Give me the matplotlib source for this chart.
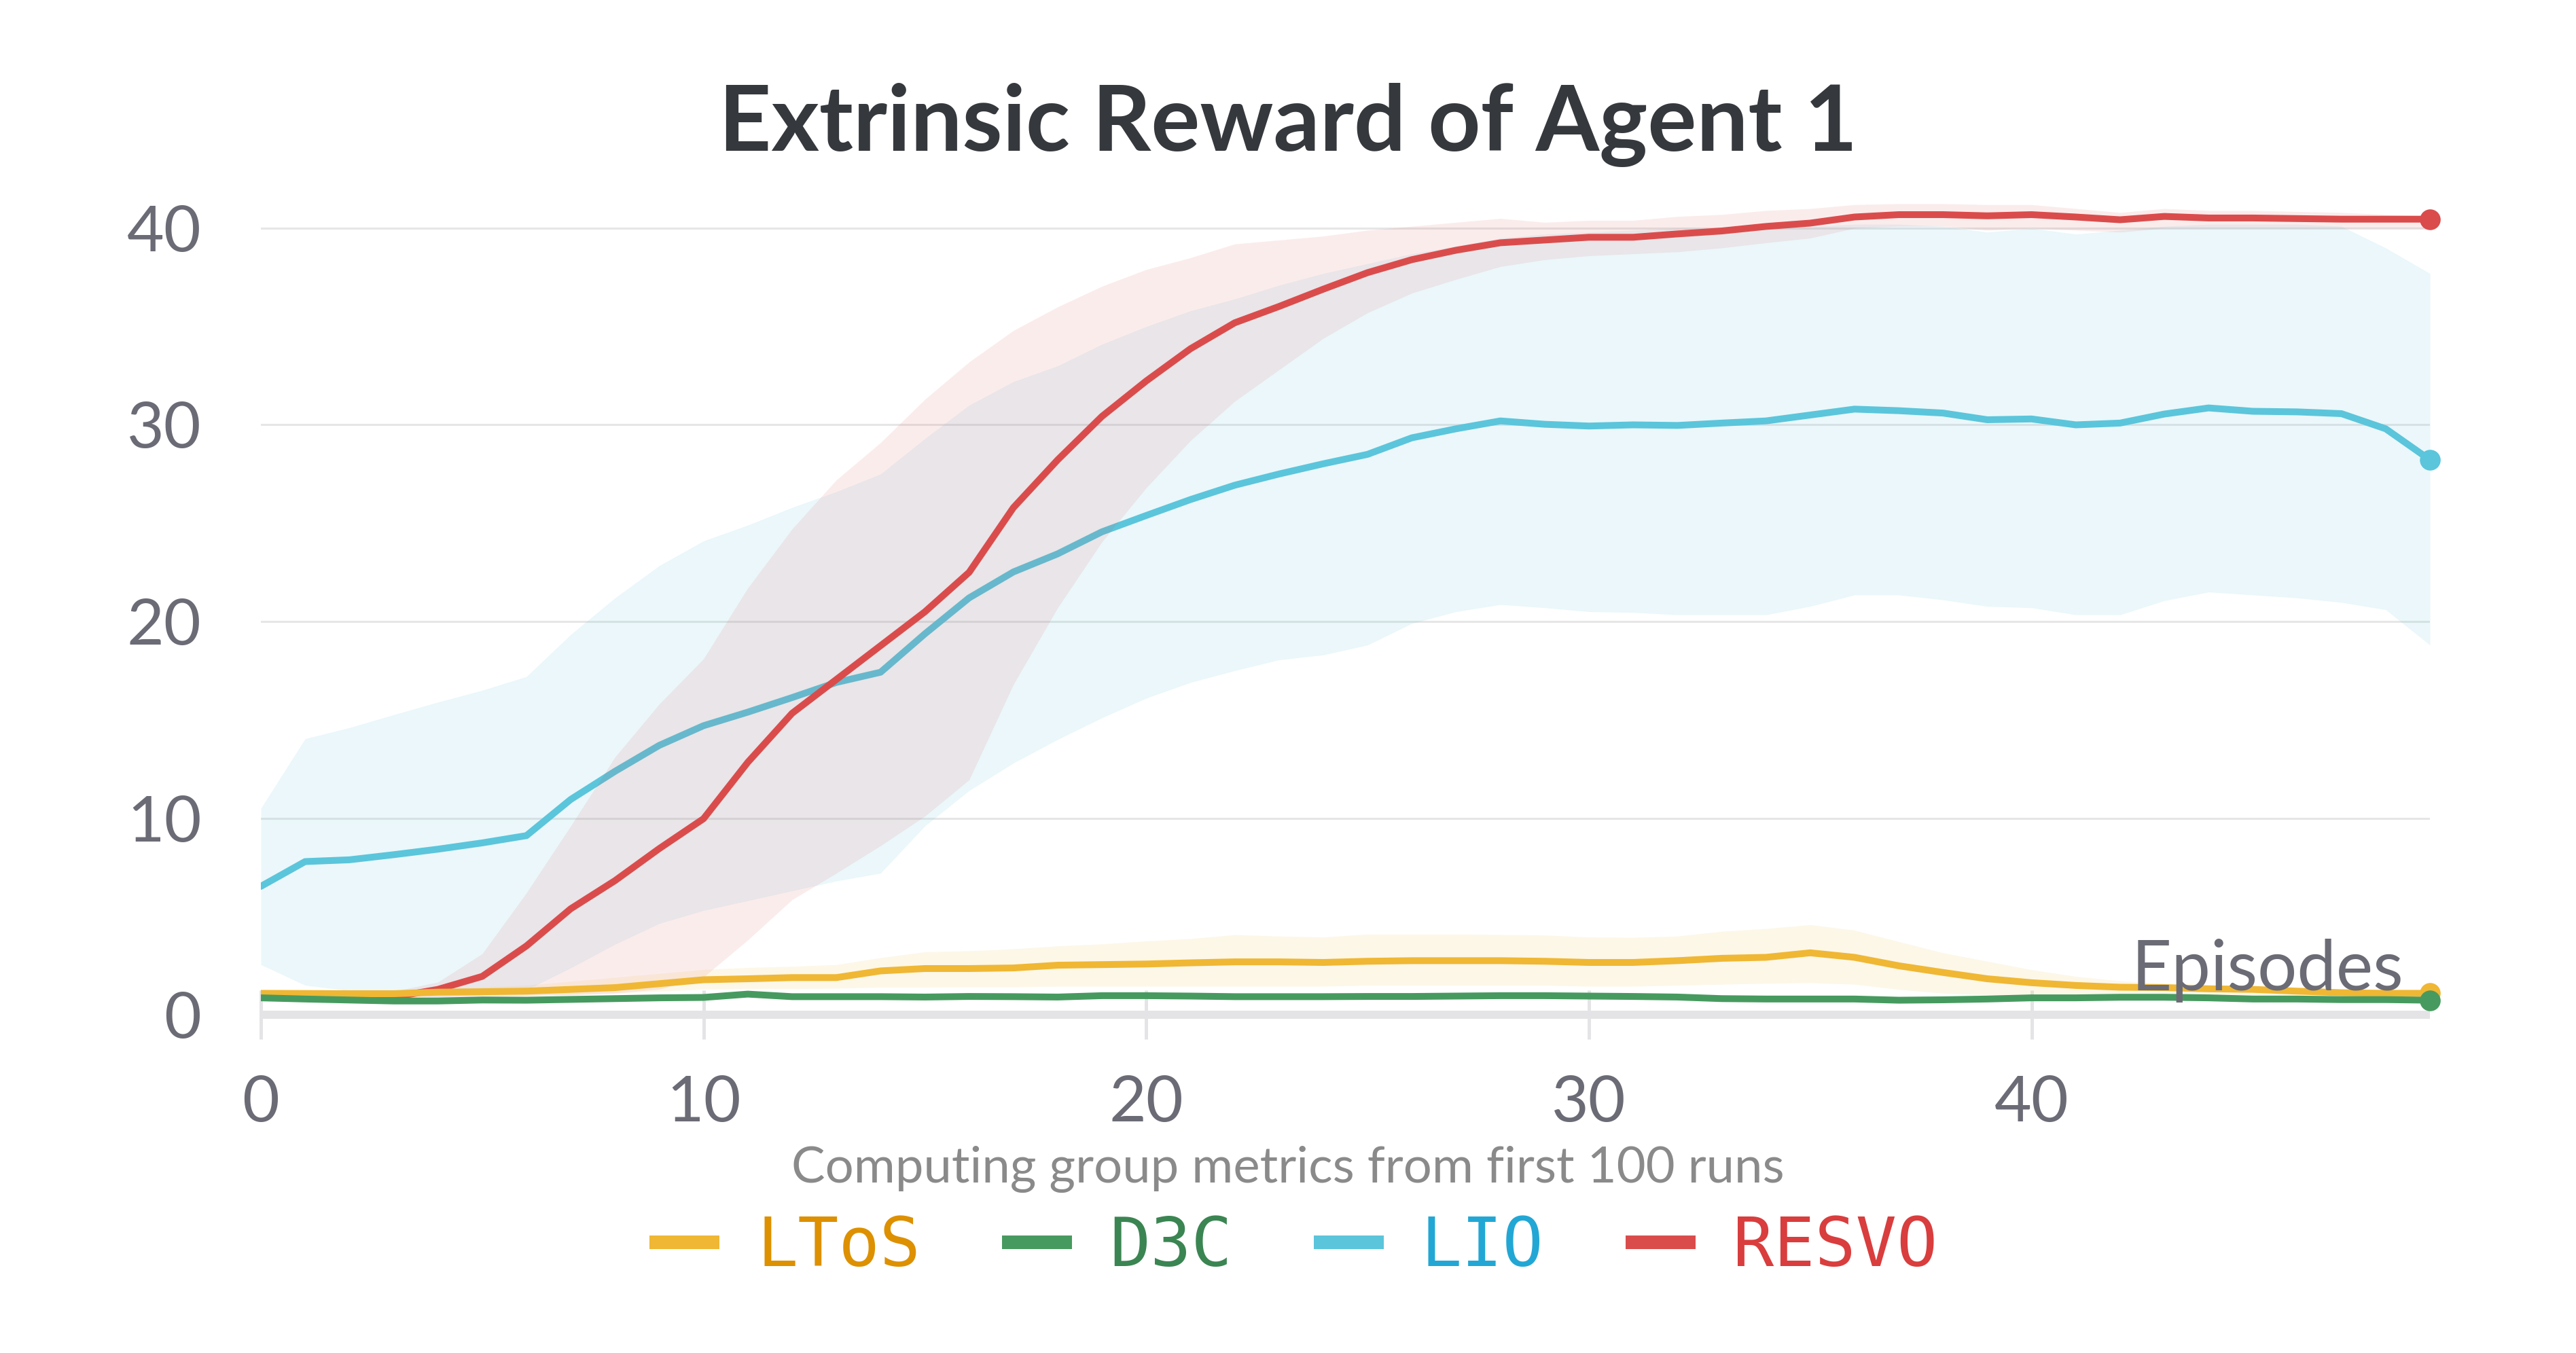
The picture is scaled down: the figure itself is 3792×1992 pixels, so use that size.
import matplotlib
matplotlib.use("Agg")
import matplotlib.pyplot as plt
from matplotlib.lines import Line2D
import numpy as np

plt.rcParams['font.family'] = ['Lato', 'DejaVu Sans']

episodes = list(range(50))

ltos_mean = [1.09, 1.08, 1.07, 1.07, 1.15, 1.17, 1.2, 1.29, 1.38, 1.58,
             1.78, 1.83, 1.89, 1.89, 2.23, 2.35, 2.35, 2.38, 2.52, 2.55,
             2.58, 2.64, 2.69, 2.69, 2.66, 2.72, 2.75, 2.75, 2.75, 2.72,
             2.66, 2.66, 2.75, 2.87, 2.92, 3.15, 2.92, 2.49, 2.15, 1.83,
             1.63, 1.49, 1.4, 1.38, 1.32, 1.29, 1.2, 1.12, 1.09, 1.09]
ltos_upper = [1.25, 1.25, 1.2, 1.2, 1.3, 1.4, 1.5, 1.7, 1.9, 2.1,
              2.3, 2.4, 2.46, 2.55, 2.9, 3.2, 3.25, 3.35, 3.5, 3.6,
              3.75, 3.87, 4.07, 4.0, 3.95, 4.1, 4.1, 4.1, 4.08, 4.05,
              3.95, 3.93, 4.0, 4.24, 4.38, 4.58, 4.3, 3.72, 3.15, 2.72,
              2.29, 1.95, 1.72, 1.6, 1.5, 1.45, 1.35, 1.3, 1.25, 1.25]
ltos_lower = [0.92, 0.92, 0.92, 0.92, 0.95, 0.98, 1.0, 1.05, 1.1, 1.2,
              1.3, 1.33, 1.33, 1.35, 1.4, 1.4, 1.42, 1.42, 1.45, 1.45,
              1.45, 1.45, 1.45, 1.45, 1.45, 1.5, 1.5, 1.5, 1.5, 1.5,
              1.45, 1.45, 1.5, 1.55, 1.6, 1.63, 1.55, 1.29, 1.1, 1.0,
              0.9, 0.88, 0.86, 0.86, 0.85, 0.85, 0.85, 0.85, 0.85, 0.85]

d3c_mean = [0.86, 0.8, 0.75, 0.7, 0.7, 0.75, 0.74, 0.78, 0.82, 0.86,
            0.88, 1.05, 0.92, 0.92, 0.92, 0.9, 0.93, 0.92, 0.9, 0.97,
            0.97, 0.95, 0.92, 0.92, 0.92, 0.93, 0.93, 0.95, 0.97, 0.97,
            0.95, 0.93, 0.9, 0.82, 0.8, 0.8, 0.8, 0.74, 0.76, 0.8,
            0.86, 0.86, 0.89, 0.89, 0.86, 0.8, 0.8, 0.77, 0.77, 0.74]
d3c_upper = [0.98, 0.92, 0.87, 0.82, 0.82, 0.87, 0.86, 0.9, 0.94, 0.98,
             1.0, 1.17, 1.04, 1.04, 1.04, 1.02, 1.05, 1.04, 1.02, 1.09,
             1.09, 1.07, 1.04, 1.04, 1.04, 1.05, 1.05, 1.07, 1.09, 1.09,
             1.07, 1.05, 1.02, 0.94, 0.92, 0.92, 0.92, 0.86, 0.88, 0.92,
             0.98, 0.98, 1.01, 1.01, 0.98, 0.92, 0.92, 0.89, 0.89, 0.86]
d3c_lower = [0.74, 0.68, 0.63, 0.58, 0.58, 0.63, 0.62, 0.66, 0.7, 0.74,
             0.76, 0.93, 0.8, 0.8, 0.8, 0.78, 0.81, 0.8, 0.78, 0.85,
             0.85, 0.83, 0.8, 0.8, 0.8, 0.81, 0.81, 0.83, 0.85, 0.85,
             0.83, 0.81, 0.78, 0.7, 0.68, 0.68, 0.68, 0.62, 0.64, 0.68,
             0.74, 0.74, 0.77, 0.77, 0.74, 0.68, 0.68, 0.65, 0.65, 0.62]

lio_mean = [6.53, 7.79, 7.88, 8.14, 8.42, 8.74, 9.11, 10.95, 12.38, 13.7,
            14.7, 15.39, 16.13, 16.9, 17.42, 19.37, 21.2, 22.52, 23.44, 24.56,
            25.39, 26.2, 26.93, 27.5, 28.02, 28.5, 29.34, 29.8, 30.2, 30.03,
            29.94, 30.0, 29.97, 30.09, 30.2, 30.5, 30.8, 30.72, 30.6, 30.26,
            30.3, 30.0, 30.09, 30.55, 30.86, 30.69, 30.66, 30.57, 29.8, 28.22]
lio_upper = [10.5, 14.04, 14.6, 15.26, 15.9, 16.5, 17.2, 19.34, 21.2, 22.84,
             24.1, 24.9, 25.8, 26.6, 27.5, 29.3, 31.0, 32.2, 33.0, 34.1,
             35.0, 35.8, 36.4, 37.1, 37.7, 38.2, 38.7, 39.1, 39.5, 39.7,
             39.8, 39.9, 40.0, 40.0, 40.1, 40.1, 40.2, 40.2, 40.1, 39.8,
             40.0, 39.7, 39.9, 40.1, 40.2, 40.2, 40.2, 40.1, 39.0, 37.7]
lio_lower = [2.55, 1.5, 1.22, 1.0, 0.9, 1.0, 1.26, 2.38, 3.58, 4.64,
             5.3, 5.8, 6.3, 6.8, 7.2, 9.6, 11.4, 12.8, 14.0, 15.1,
             16.1, 16.9, 17.5, 18.05, 18.3, 18.8, 19.9, 20.5, 20.86, 20.7,
             20.5, 20.46, 20.34, 20.34, 20.34, 20.77, 21.35, 21.35, 21.1, 20.77,
             20.7, 20.34, 20.34, 21.06, 21.5, 21.35, 21.2, 20.97, 20.6, 18.8]

resvo_mean = [1.0, 1.03, 1.0, 0.9, 1.29, 1.95, 3.5, 5.39, 6.82, 8.45,
              9.97, 12.84, 15.33, 17.05, 18.77, 20.49, 22.5, 25.79, 28.22, 30.43,
              32.23, 33.87, 35.19, 36.02, 36.9, 37.74, 38.4, 38.88, 39.26, 39.4,
              39.54, 39.54, 39.71, 39.86, 40.09, 40.26, 40.57, 40.69, 40.69, 40.63,
              40.69, 40.57, 40.43, 40.6, 40.52, 40.52, 40.49, 40.46, 40.46, 40.46]
resvo_upper = [1.2, 1.2, 1.15, 1.19, 1.66, 3.1, 6.2, 9.6, 13.1, 15.8,
               18.1, 21.7, 24.7, 27.2, 29.1, 31.3, 33.2, 34.8, 36.0, 37.05,
               37.9, 38.5, 39.2, 39.4, 39.6, 39.9, 40.1, 40.3, 40.5, 40.3,
               40.4, 40.4, 40.6, 40.7, 40.9, 41.0, 41.2, 41.25, 41.25, 41.2,
               41.2, 41.0, 40.8, 41.0, 40.9, 40.9, 40.85, 40.8, 40.7, 40.6]
resvo_lower = [0.9, 0.85, 0.8, 0.75, 0.8, 0.9, 0.95, 1.0, 1.1, 1.3,
               1.92, 3.8, 5.85, 7.2, 8.6, 10.1, 11.95, 16.8, 20.7, 24.05,
               26.8, 29.2, 31.2, 32.8, 34.4, 35.7, 36.7, 37.4, 38.05, 38.4,
               38.6, 38.7, 38.8, 39.0, 39.26, 39.5, 40.0, 40.1, 40.1, 39.9,
               40.0, 39.9, 39.8, 40.0, 40.0, 40.0, 40.0, 40.0, 40.0, 40.0]

series_names = ["LToS", "D3C", "LIO", "RESVO"]
line_colors = {"LToS": "#efb733", "D3C": "#479a5f", "LIO": "#5bc5db", "RESVO": "#da4c4c"}
text_colors = {"LToS": "#dd9000", "D3C": "#3b8552", "LIO": "#22a7d5", "RESVO": "#d93d3d"}
band_alpha = {"LToS": 0.11, "D3C": 0.1, "LIO": 0.12, "RESVO": 0.1}
data = {
    "LToS": (ltos_mean, ltos_lower, ltos_upper),
    "D3C": (d3c_mean, d3c_lower, d3c_upper),
    "LIO": (lio_mean, lio_lower, lio_upper),
    "RESVO": (resvo_mean, resvo_lower, resvo_upper),
}
draw_order = ["LIO", "RESVO", "LToS", "D3C"]

W, H = 3792, 1992
fig = plt.figure(figsize=(W / 100, H / 100), dpi=100)

# axes placement (pixels)
x0_px, x49_px = 384, 3577
zero_px, px_per_unit = 1494, 28.95
ylo, yhi = -1.5, 42.5
bot_px = zero_px - ylo * px_per_unit
top_px = zero_px - yhi * px_per_unit
ax = fig.add_axes([x0_px / W, (H - bot_px) / H, (x49_px - x0_px) / W, (bot_px - top_px) / H])
ax.set_xlim(0, 49)
ax.set_ylim(ylo, yhi)

lw = 7.2
z = 2
for name in draw_order:
    m, lo, up = data[name]
    ax.fill_between(episodes, lo, up, color=line_colors[name], alpha=band_alpha[name],
                    linewidth=0, zorder=z)
    ax.plot(episodes, m, color=line_colors[name], lw=lw, zorder=z + 0.5,
            solid_joinstyle='round', solid_capstyle='round')
    ax.plot(episodes[-1:], m[-1:], 'o', color=line_colors[name], ms=22, zorder=z + 0.6,
            clip_on=False, mec='none')
    z += 1

for s in ['top', 'right', 'left']:
    ax.spines[s].set_visible(False)
ax.spines['bottom'].set_position(('data', 0))
ax.spines['bottom'].set_color('#e4e4e6')
ax.spines['bottom'].set_linewidth(8.6)
ax.spines['bottom'].set_zorder(1.5)
ax.spines['bottom'].set_capstyle('butt')

ax.set_xticks([0, 10, 20, 30, 40])
ax.set_yticks([0, 10, 20, 30, 40])
ax.tick_params(axis='x', direction='inout', length=52, width=3.6, color='#e4e4e6',
               pad=38, labelsize=68, labelcolor='#6b6b76')
ax.tick_params(axis='y', length=0, pad=63, labelsize=68, labelcolor='#6b6b76')
ax.yaxis.grid(True, color='#e6e6e6', linewidth=2.2)
ax.set_axisbelow(True)

ax.text(48.4, 1.24, "Episodes", ha='right', va='baseline', fontsize=74,
        color='#6b6b76', zorder=20)

fig.text(0.5, 1 - 222 / H, "Extrinsic Reward of Agent 1", ha='center', va='baseline',
         fontsize=97, fontweight='bold', color='#35383c')
fig.text(0.5, 1 - 1741 / H, "Computing group metrics from first 100 runs", ha='center',
         va='baseline', fontsize=53.5, color='#8a8a8a')

handles = [Line2D([0], [0], color=line_colors[n], lw=14.4, solid_capstyle='butt')
           for n in series_names]
leg = fig.legend(handles, series_names, loc='center', bbox_to_anchor=(1904 / W, 1 - 1836 / H),
                 ncol=4, frameon=False, handlelength=1.03, handletextpad=0.55,
                 columnspacing=1.2, borderpad=0, borderaxespad=0,
                 prop={'family': ['DejaVu Sans Mono'], 'size': 72},
                 labelcolor=[text_colors[n] for n in series_names])

fig.savefig("out.png", dpi=100, facecolor='white')
